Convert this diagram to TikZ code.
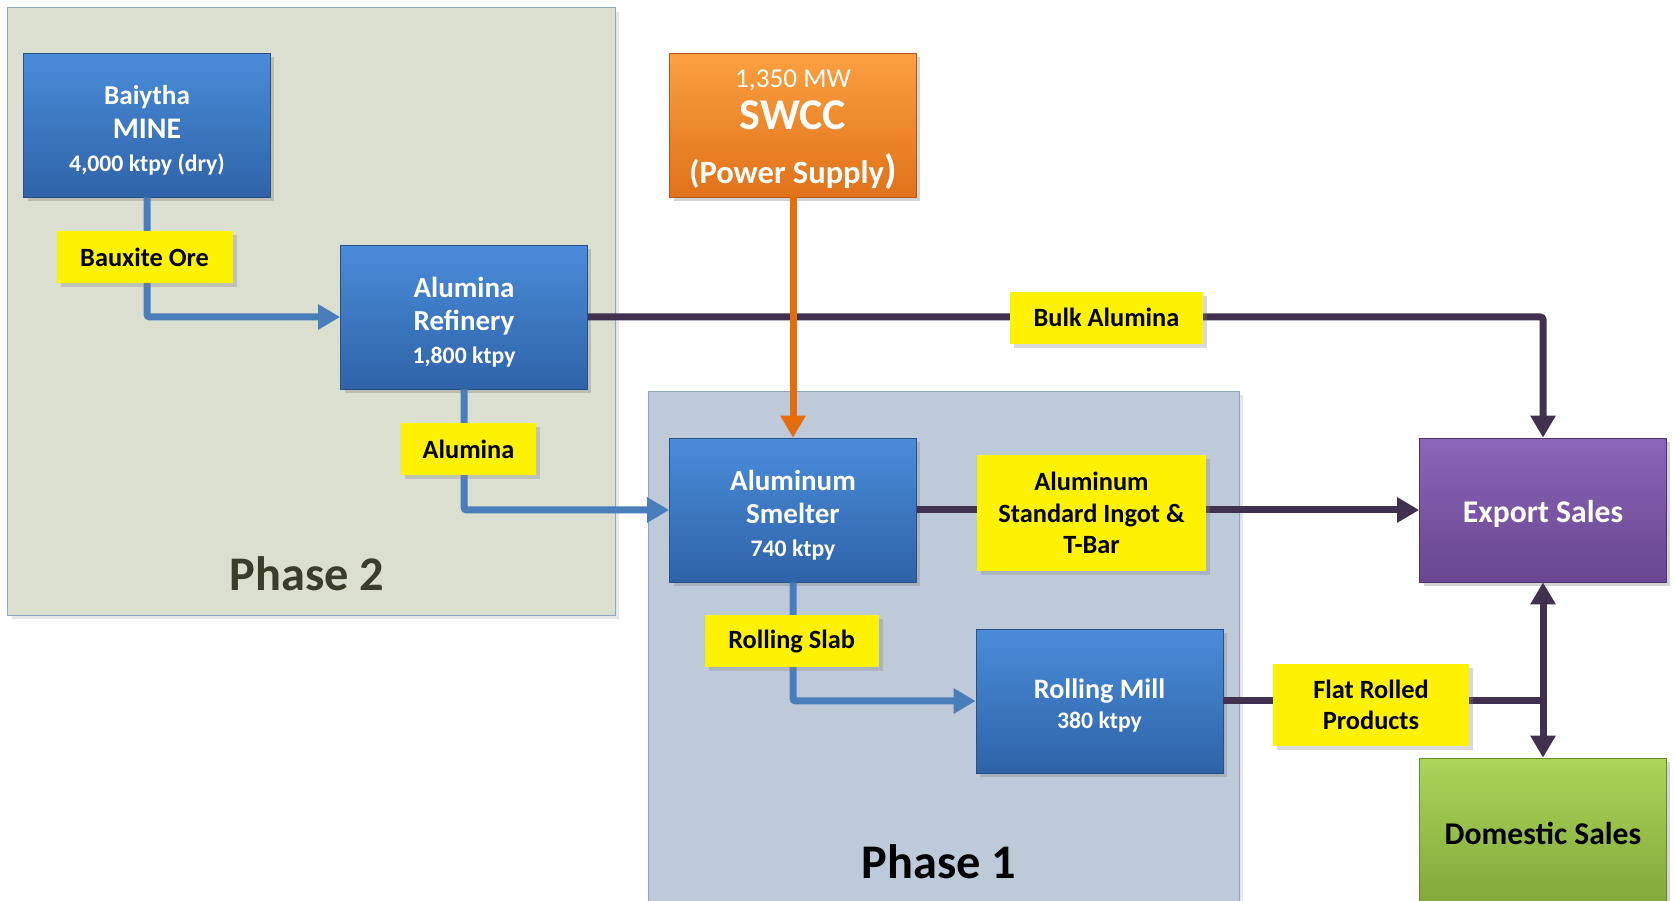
\documentclass[tikz,border=0pt]{standalone}
\usepackage{fontspec}
\setmainfont{Carlito}
\usetikzlibrary{arrows.meta,shadows}
\definecolor{planttop}{HTML}{4A8CDA}
\definecolor{plantbot}{HTML}{2F63A8}
\definecolor{plantedge}{HTML}{2A5183}
\definecolor{powertop}{HTML}{FBA040}
\definecolor{powerbot}{HTML}{E0721A}
\definecolor{poweredge}{HTML}{B7581A}
\definecolor{exporttop}{HTML}{8B65B9}
\definecolor{exportbot}{HTML}{69468F}
\definecolor{exportedge}{HTML}{4E3470}
\definecolor{domtop}{HTML}{AAD55B}
\definecolor{dombot}{HTML}{82A83A}
\definecolor{domedge}{HTML}{6A8A2C}
\definecolor{phasetwo}{HTML}{DBDFD0}
\definecolor{phaseone}{HTML}{BECAD9}
\definecolor{phaseedge}{HTML}{8EA6C8}
\definecolor{phasetwotext}{HTML}{3B3D2B}
\definecolor{flowblue}{HTML}{4A7EBB}
\definecolor{flowpurple}{HTML}{403151}
\definecolor{floworange}{HTML}{E46C0A}
\newcommand{\boxlift}[1]{\rule{0pt}{#1}}
\begin{document}
\begin{tikzpicture}[x=0.02cm, y=-0.02cm,
	plant/.style={rectangle, draw=plantedge, top color=planttop, bottom color=plantbot, minimum width=4.94cm, minimum height=2.88cm, align=center, text=white, font=\bfseries\fontsize{16.5}{19}\selectfont, drop shadow={opacity=0.35, shadow xshift=0.08cm, shadow yshift=-0.08cm}},
	tag/.style={rectangle, fill=yellow, minimum height=1.04cm, align=center, font=\bfseries\fontsize{15}{18}\selectfont, drop shadow={opacity=0.3, shadow xshift=0.08cm, shadow yshift=-0.08cm}},
	sales/.style={rectangle, minimum width=4.94cm, minimum height=2.88cm, font=\bfseries\fontsize{18}{21}\selectfont, execute at begin node={\rule{0pt}{16.5pt}}, drop shadow={opacity=0.35, shadow xshift=0.08cm, shadow yshift=-0.08cm}},
	phase/.style={font=\bfseries\fontsize{27.5}{30}\selectfont},
	flow/.style={line width=0.14cm, rounded corners=1.5pt},
	tip/.style={-{Triangle[length=0.44cm, width=0.48cm]}}]
	\useasboundingbox (0,0) rectangle (1674,901);
	% phase areas
	\filldraw[fill=phasetwo, draw=phaseedge, drop shadow={opacity=0.2}] (7.5,7.5) rectangle (615,615);
	\filldraw[fill=phaseone, draw=phaseedge, drop shadow={opacity=0.2}] (648,391) rectangle (1239,910);
	\node[phase, text=phasetwotext] (ph2) at (307,574) {Phase 2};
	\node[phase] (ph1) at (939,862) {Phase 1};
	\node[plant] (mine) at (147,125) {\boxlift{17pt}{\fontsize{15.5}{19}\selectfont Baiytha}\\ {\fontsize{17}{19}\selectfont MINE}\\ {\fontsize{13.5}{16}\selectfont 4,000 ktpy (dry)}};
	\node[plant] (refinery) at (464,317) {\boxlift{17.5pt}Alumina\\ Refinery\\ {\fontsize{13.5}{16}\selectfont 1,800 ktpy}};
	\node[plant, top color=powertop, bottom color=powerbot, draw=poweredge, font=\bfseries\fontsize{18.5}{24}\selectfont] (swcc) at (793,125) {\boxlift{15.5pt}{\fontsize{15.5}{18}\selectfont\mdseries 1,350 MW}\\ {\fontsize{25}{24}\selectfont SWCC}\\[6.5pt] (Power Supply{\fontsize{23}{24}\selectfont )}};
	\node[plant] (smelter) at (793,510) {\boxlift{17.5pt}Aluminum\\ Smelter\\ {\fontsize{13.5}{16}\selectfont 740 ktpy}};
	\node[plant] (mill) at (1099.5,701) {\boxlift{16.5pt}{\fontsize{16}{19}\selectfont Rolling Mill}\\[-2pt] {\fontsize{13.5}{16}\selectfont 380 ktpy}};
	\node[sales, top color=exporttop, bottom color=exportbot, draw=exportedge, text=white] (export) at (1543,510) {Export Sales};
	\node[sales, top color=domtop, bottom color=dombot, draw=domedge, minimum height=2.9cm] (domestic) at (1543,830.5) {Domestic Sales};
	\coordinate (fork) at (1543,701);
	% connectors
	\draw[flow, tip, flowblue] (mine) |- (refinery);
	\draw[flow, tip, flowblue] (refinery) |- (smelter);
	\draw[flow, tip, flowblue] (smelter) |- (mill);
	\draw[flow, tip, flowpurple] (refinery) -| (export);
	\draw[flow, tip, floworange] (swcc) -- (smelter);
	\draw[flow, tip, flowpurple] (smelter) -- (export);
	\draw[flow, flowpurple] (mill) -- (fork);
	\draw[flow, tip, flowpurple] (fork) -- (export);
	\draw[flow, tip, flowpurple] (fork) -- (domestic);
	% labels on the flows
	\node[tag, minimum width=3.52cm] (ore) at (144.6,257) {Bauxite Ore};
	\node[tag, minimum width=2.7cm] (alumina) at (468.5,449) {Alumina};
	\node[tag, minimum width=3.86cm] (bulk) at (1106.5,317.6) {Bulk Alumina};
	\node[tag, minimum width=4.58cm, minimum height=2.32cm] (ingot) at (1091.5,513) {Aluminum\\Standard Ingot \&\\T-Bar};
	\node[tag, minimum width=3.48cm] (slab) at (791.6,641) {Rolling Slab};
	\node[tag, minimum width=3.94cm, minimum height=1.64cm] (flat) at (1371,705) {Flat Rolled\\Products};
\end{tikzpicture}
\end{document}
